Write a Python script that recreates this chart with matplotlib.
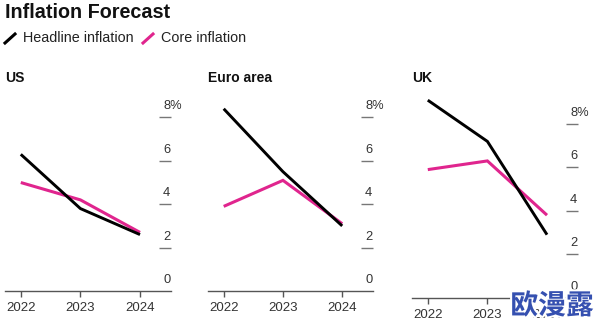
import matplotlib
matplotlib.use("Agg")
import matplotlib.pyplot as plt
from matplotlib import transforms
import matplotlib.patheffects as pe

plt.rcParams['font.family'] = ['Liberation Sans', 'DejaVu Sans']

years = [2022, 2023, 2024]
regions = ["US", "Euro area", "UK"]
headline = {
    "US": [6.3, 3.8, 2.6],
    "Euro area": [8.4, 5.5, 3.0],
    "UK": [9.1, 7.2, 2.9],
}
core = {
    "US": [5.0, 4.2, 2.7],
    "Euro area": [3.9, 5.1, 3.1],
    "UK": [5.9, 6.3, 3.8],
}
y_ticks = [0, 2, 4, 6, 8]
y_labels = ["0", "2", "4", "6", "8%"]

HEADLINE_COLOR = "#000000"
CORE_COLOR = "#e0258e"
AXIS_COLOR = "#555555"
TEXT_COLOR = "#333333"

W, H = 594, 331
fig = plt.figure(figsize=(W / 100, H / 100), dpi=100)


def px_axes(left, top, right, bottom):
    return fig.add_axes([left / W, 1 - bottom / H, (right - left) / W, (bottom - top) / H])


# panel boxes in pixels: left, top, right, bottom (bottom = zero line)
boxes = {
    "US": (5, 84.9, 171, 291),
    "Euro area": (208, 84.9, 373, 291),
    "UK": (412, 91.5, 578, 297.6),
}
title_x = {"US": 5, "Euro area": 208, "UK": 412}

for region in regions:
    left, top, right, bottom = boxes[region]
    ax = px_axes(left, top, right, bottom)
    ax.set_xlim(2021.735, 2024.52)
    ax.set_ylim(0, 9.5)

    ax.plot(years, core[region], color=CORE_COLOR, lw=2.2, clip_on=False,
            solid_joinstyle='miter', solid_capstyle='butt', zorder=3)
    ax.plot(years, headline[region], color=HEADLINE_COLOR, lw=2.1, clip_on=False,
            solid_joinstyle='miter', solid_capstyle='butt', zorder=4)

    for side in ("top", "left", "right"):
        ax.spines[side].set_visible(False)
    ax.spines["bottom"].set_color(AXIS_COLOR)
    ax.spines["bottom"].set_linewidth(1.0)

    ax.set_xticks(years)
    ax.set_xticklabels([str(y) for y in years])
    ax.tick_params(axis='x', direction='out', length=4, width=1, color=AXIS_COLOR,
                   labelsize=9.5, labelcolor=TEXT_COLOR, pad=4)

    # y scale on the right: short dashes with labels sitting above them
    ax.yaxis.tick_right()
    ax.set_yticks(y_ticks[1:])
    ax.tick_params(axis='y', direction='in', length=9, width=1, color="#777777",
                   labelright=False, right=True)
    label_tr = transforms.offset_copy(
        transforms.blended_transform_factory(ax.transAxes, ax.transData),
        fig=fig, x=0, y=11, units='dots')
    for v, lab in zip(y_ticks, y_labels):
        ax.text(0.952, v, lab, transform=label_tr, ha='left', va='center',
                fontsize=9.3, color=TEXT_COLOR)

    fig.text(title_x[region] / W, 1 - 77.5 / H, region, ha='left', va='center',
             fontsize=10, fontweight='bold', color='#111111')

# header
fig.text(5 / W, 1 - 12.5 / H, "Inflation Forecast", ha='left', va='center',
         fontsize=14.2, fontweight='bold', color='#111111')
for x0, label, color in [(5, "Headline inflation", HEADLINE_COLOR),
                         (143, "Core inflation", CORE_COLOR)]:
    fig.add_artist(plt.Line2D([x0 / W, (x0 + 10) / W], [1 - 43 / H, 1 - 34 / H],
                              color=color, lw=2.2, transform=fig.transFigure))
    fig.text((x0 + 18) / W, 1 - 38 / H, label, ha='left', va='center',
             fontsize=10.4, color='#222222')

# stamp in the lower right corner, drawn over the UK axis labels
fig.text(552 / W, 1 - 306 / H, "欧漫露", ha='center', va='center', fontsize=20,
         fontweight='bold', color='#3550b0', family=['Noto Sans CJK SC', 'DejaVu Sans'],
         zorder=10, path_effects=[pe.withStroke(linewidth=3, foreground='white')])

fig.savefig("out.png", dpi=100)
